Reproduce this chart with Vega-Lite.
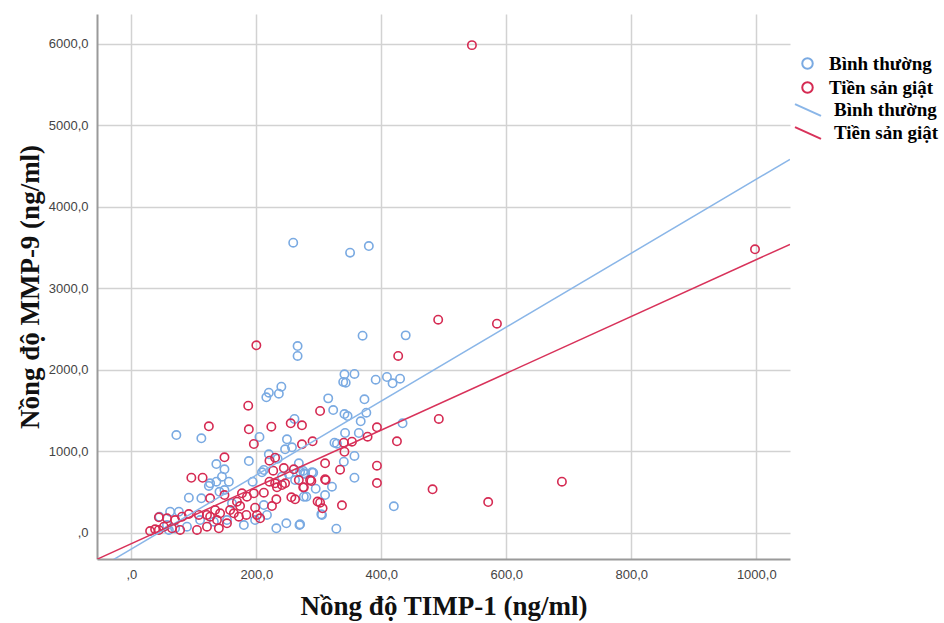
{
  "$schema": "https://vega.github.io/schema/vega-lite/v6.json",
  "width": 693,
  "height": 545,
  "autosize": {"type": "none"},
  "padding": {"left": 97, "top": 14, "right": 154, "bottom": 64},
  "background": "white",
  "config": {"view": {"stroke": null}, "font": "Liberation Sans"},
  "datasets": {
    "points": [
      {"timp1": 259, "mmp9": 3556, "nhom": "Bình thường"},
      {"timp1": 350, "mmp9": 3433, "nhom": "Bình thường"},
      {"timp1": 380, "mmp9": 3515, "nhom": "Bình thường"},
      {"timp1": 370, "mmp9": 2415, "nhom": "Bình thường"},
      {"timp1": 439, "mmp9": 2419, "nhom": "Bình thường"},
      {"timp1": 266, "mmp9": 2288, "nhom": "Bình thường"},
      {"timp1": 266, "mmp9": 2166, "nhom": "Bình thường"},
      {"timp1": 341, "mmp9": 1941, "nhom": "Bình thường"},
      {"timp1": 357, "mmp9": 1945, "nhom": "Bình thường"},
      {"timp1": 339, "mmp9": 1847, "nhom": "Bình thường"},
      {"timp1": 343, "mmp9": 1838, "nhom": "Bình thường"},
      {"timp1": 391, "mmp9": 1875, "nhom": "Bình thường"},
      {"timp1": 409, "mmp9": 1908, "nhom": "Bình thường"},
      {"timp1": 418, "mmp9": 1831, "nhom": "Bình thường"},
      {"timp1": 430, "mmp9": 1887, "nhom": "Bình thường"},
      {"timp1": 220, "mmp9": 1715, "nhom": "Bình thường"},
      {"timp1": 216, "mmp9": 1659, "nhom": "Bình thường"},
      {"timp1": 236, "mmp9": 1703, "nhom": "Bình thường"},
      {"timp1": 240, "mmp9": 1789, "nhom": "Bình thường"},
      {"timp1": 315, "mmp9": 1646, "nhom": "Bình thường"},
      {"timp1": 323, "mmp9": 1503, "nhom": "Bình thường"},
      {"timp1": 373, "mmp9": 1634, "nhom": "Bình thường"},
      {"timp1": 341, "mmp9": 1454, "nhom": "Bình thường"},
      {"timp1": 346, "mmp9": 1429, "nhom": "Bình thường"},
      {"timp1": 376, "mmp9": 1470, "nhom": "Bình thường"},
      {"timp1": 367, "mmp9": 1364, "nhom": "Bình thường"},
      {"timp1": 261, "mmp9": 1393, "nhom": "Bình thường"},
      {"timp1": 434, "mmp9": 1340, "nhom": "Bình thường"},
      {"timp1": 342, "mmp9": 1221, "nhom": "Bình thường"},
      {"timp1": 364, "mmp9": 1221, "nhom": "Bình thường"},
      {"timp1": 325, "mmp9": 1102, "nhom": "Bình thường"},
      {"timp1": 329, "mmp9": 1090, "nhom": "Bình thường"},
      {"timp1": 357, "mmp9": 939, "nhom": "Bình thường"},
      {"timp1": 340, "mmp9": 869, "nhom": "Bình thường"},
      {"timp1": 291, "mmp9": 734, "nhom": "Bình thường"},
      {"timp1": 276, "mmp9": 726, "nhom": "Bình thường"},
      {"timp1": 270, "mmp9": 746, "nhom": "Bình thường"},
      {"timp1": 357, "mmp9": 672, "nhom": "Bình thường"},
      {"timp1": 295, "mmp9": 537, "nhom": "Bình thường"},
      {"timp1": 321, "mmp9": 562, "nhom": "Bình thường"},
      {"timp1": 310, "mmp9": 460, "nhom": "Bình thường"},
      {"timp1": 276, "mmp9": 439, "nhom": "Bình thường"},
      {"timp1": 420, "mmp9": 321, "nhom": "Bình thường"},
      {"timp1": 304, "mmp9": 223, "nhom": "Bình thường"},
      {"timp1": 270, "mmp9": 101, "nhom": "Bình thường"},
      {"timp1": 328, "mmp9": 47, "nhom": "Bình thường"},
      {"timp1": 205, "mmp9": 1172, "nhom": "Bình thường"},
      {"timp1": 249, "mmp9": 1144, "nhom": "Bình thường"},
      {"timp1": 246, "mmp9": 1021, "nhom": "Bình thường"},
      {"timp1": 257, "mmp9": 1045, "nhom": "Bình thường"},
      {"timp1": 188, "mmp9": 877, "nhom": "Bình thường"},
      {"timp1": 220, "mmp9": 960, "nhom": "Bình thường"},
      {"timp1": 234, "mmp9": 906, "nhom": "Bình thường"},
      {"timp1": 268, "mmp9": 849, "nhom": "Bình thường"},
      {"timp1": 212, "mmp9": 767, "nhom": "Bình thường"},
      {"timp1": 209, "mmp9": 739, "nhom": "Bình thường"},
      {"timp1": 241, "mmp9": 685, "nhom": "Bình thường"},
      {"timp1": 252, "mmp9": 718, "nhom": "Bình thường"},
      {"timp1": 275, "mmp9": 755, "nhom": "Bình thường"},
      {"timp1": 278, "mmp9": 718, "nhom": "Bình thường"},
      {"timp1": 289, "mmp9": 739, "nhom": "Bình thường"},
      {"timp1": 262, "mmp9": 644, "nhom": "Bình thường"},
      {"timp1": 280, "mmp9": 439, "nhom": "Bình thường"},
      {"timp1": 161, "mmp9": 358, "nhom": "Bình thường"},
      {"timp1": 180, "mmp9": 92, "nhom": "Bình thường"},
      {"timp1": 198, "mmp9": 153, "nhom": "Bình thường"},
      {"timp1": 232, "mmp9": 52, "nhom": "Bình thường"},
      {"timp1": 248, "mmp9": 113, "nhom": "Bình thường"},
      {"timp1": 269, "mmp9": 92, "nhom": "Bình thường"},
      {"timp1": 305, "mmp9": 215, "nhom": "Bình thường"},
      {"timp1": 212, "mmp9": 337, "nhom": "Bình thường"},
      {"timp1": 217, "mmp9": 215, "nhom": "Bình thường"},
      {"timp1": 72, "mmp9": 1196, "nhom": "Bình thường"},
      {"timp1": 112, "mmp9": 1156, "nhom": "Bình thường"},
      {"timp1": 136, "mmp9": 840, "nhom": "Bình thường"},
      {"timp1": 149, "mmp9": 775, "nhom": "Bình thường"},
      {"timp1": 126, "mmp9": 604, "nhom": "Bình thường"},
      {"timp1": 136, "mmp9": 623, "nhom": "Bình thường"},
      {"timp1": 156, "mmp9": 623, "nhom": "Bình thường"},
      {"timp1": 149, "mmp9": 521, "nhom": "Bình thường"},
      {"timp1": 141, "mmp9": 500, "nhom": "Bình thường"},
      {"timp1": 92, "mmp9": 427, "nhom": "Bình thường"},
      {"timp1": 112, "mmp9": 420, "nhom": "Bình thường"},
      {"timp1": 45, "mmp9": 194, "nhom": "Bình thường"},
      {"timp1": 62, "mmp9": 255, "nhom": "Bình thường"},
      {"timp1": 76, "mmp9": 255, "nhom": "Bình thường"},
      {"timp1": 57, "mmp9": 92, "nhom": "Bình thường"},
      {"timp1": 89, "mmp9": 71, "nhom": "Bình thường"},
      {"timp1": 110, "mmp9": 153, "nhom": "Bình thường"},
      {"timp1": 132, "mmp9": 133, "nhom": "Bình thường"},
      {"timp1": 153, "mmp9": 153, "nhom": "Bình thường"},
      {"timp1": 145, "mmp9": 685, "nhom": "Bình thường"},
      {"timp1": 124, "mmp9": 571, "nhom": "Bình thường"},
      {"timp1": 194, "mmp9": 623, "nhom": "Bình thường"},
      {"timp1": 60, "mmp9": 31, "nhom": "Bình thường"},
      {"timp1": 70, "mmp9": 52, "nhom": "Bình thường"},
      {"timp1": 545, "mmp9": 5980, "nhom": "Tiền sản giật"},
      {"timp1": 998, "mmp9": 3475, "nhom": "Tiền sản giật"},
      {"timp1": 491, "mmp9": 2611, "nhom": "Tiền sản giật"},
      {"timp1": 585, "mmp9": 2562, "nhom": "Tiền sản giật"},
      {"timp1": 200, "mmp9": 2297, "nhom": "Tiền sản giật"},
      {"timp1": 427, "mmp9": 2166, "nhom": "Tiền sản giật"},
      {"timp1": 187, "mmp9": 1556, "nhom": "Tiền sản giật"},
      {"timp1": 302, "mmp9": 1491, "nhom": "Tiền sản giật"},
      {"timp1": 124, "mmp9": 1303, "nhom": "Tiền sản giật"},
      {"timp1": 188, "mmp9": 1266, "nhom": "Tiền sản giật"},
      {"timp1": 224, "mmp9": 1298, "nhom": "Tiền sản giật"},
      {"timp1": 255, "mmp9": 1340, "nhom": "Tiền sản giật"},
      {"timp1": 273, "mmp9": 1315, "nhom": "Tiền sản giật"},
      {"timp1": 492, "mmp9": 1393, "nhom": "Tiền sản giật"},
      {"timp1": 393, "mmp9": 1291, "nhom": "Tiền sản giật"},
      {"timp1": 378, "mmp9": 1176, "nhom": "Tiền sản giật"},
      {"timp1": 425, "mmp9": 1119, "nhom": "Tiền sản giật"},
      {"timp1": 290, "mmp9": 1119, "nhom": "Tiền sản giật"},
      {"timp1": 340, "mmp9": 1102, "nhom": "Tiền sản giật"},
      {"timp1": 353, "mmp9": 1114, "nhom": "Tiền sản giật"},
      {"timp1": 273, "mmp9": 1082, "nhom": "Tiền sản giật"},
      {"timp1": 341, "mmp9": 991, "nhom": "Tiền sản giật"},
      {"timp1": 310, "mmp9": 849, "nhom": "Tiền sản giật"},
      {"timp1": 393, "mmp9": 820, "nhom": "Tiền sản giật"},
      {"timp1": 334, "mmp9": 771, "nhom": "Tiền sản giật"},
      {"timp1": 393, "mmp9": 607, "nhom": "Tiền sản giật"},
      {"timp1": 311, "mmp9": 644, "nhom": "Tiền sản giật"},
      {"timp1": 288, "mmp9": 632, "nhom": "Tiền sản giật"},
      {"timp1": 276, "mmp9": 554, "nhom": "Tiền sản giật"},
      {"timp1": 482, "mmp9": 530, "nhom": "Tiền sản giật"},
      {"timp1": 571, "mmp9": 374, "nhom": "Tiền sản giật"},
      {"timp1": 689, "mmp9": 624, "nhom": "Tiền sản giật"},
      {"timp1": 302, "mmp9": 366, "nhom": "Tiền sản giật"},
      {"timp1": 306, "mmp9": 297, "nhom": "Tiền sản giật"},
      {"timp1": 337, "mmp9": 334, "nhom": "Tiền sản giật"},
      {"timp1": 196, "mmp9": 1086, "nhom": "Tiền sản giật"},
      {"timp1": 221, "mmp9": 881, "nhom": "Tiền sản giật"},
      {"timp1": 230, "mmp9": 918, "nhom": "Tiền sản giật"},
      {"timp1": 227, "mmp9": 758, "nhom": "Tiền sản giật"},
      {"timp1": 244, "mmp9": 791, "nhom": "Tiền sản giật"},
      {"timp1": 260, "mmp9": 775, "nhom": "Tiền sản giật"},
      {"timp1": 221, "mmp9": 623, "nhom": "Tiền sản giật"},
      {"timp1": 230, "mmp9": 604, "nhom": "Tiền sản giật"},
      {"timp1": 233, "mmp9": 555, "nhom": "Tiền sản giật"},
      {"timp1": 241, "mmp9": 583, "nhom": "Tiền sản giật"},
      {"timp1": 246, "mmp9": 604, "nhom": "Tiền sản giật"},
      {"timp1": 268, "mmp9": 644, "nhom": "Tiền sản giật"},
      {"timp1": 275, "mmp9": 555, "nhom": "Tiền sản giật"},
      {"timp1": 286, "mmp9": 644, "nhom": "Tiền sản giật"},
      {"timp1": 310, "mmp9": 653, "nhom": "Tiền sản giật"},
      {"timp1": 177, "mmp9": 481, "nhom": "Tiền sản giật"},
      {"timp1": 185, "mmp9": 439, "nhom": "Tiền sản giật"},
      {"timp1": 196, "mmp9": 481, "nhom": "Tiền sản giật"},
      {"timp1": 212, "mmp9": 488, "nhom": "Tiền sản giật"},
      {"timp1": 232, "mmp9": 407, "nhom": "Tiền sản giật"},
      {"timp1": 256, "mmp9": 432, "nhom": "Tiền sản giật"},
      {"timp1": 262, "mmp9": 407, "nhom": "Tiền sản giật"},
      {"timp1": 298, "mmp9": 380, "nhom": "Tiền sản giật"},
      {"timp1": 169, "mmp9": 378, "nhom": "Tiền sản giật"},
      {"timp1": 174, "mmp9": 325, "nhom": "Tiền sản giật"},
      {"timp1": 184, "mmp9": 215, "nhom": "Tiền sản giật"},
      {"timp1": 198, "mmp9": 304, "nhom": "Tiền sản giật"},
      {"timp1": 201, "mmp9": 215, "nhom": "Tiền sản giật"},
      {"timp1": 206, "mmp9": 174, "nhom": "Tiền sản giật"},
      {"timp1": 225, "mmp9": 325, "nhom": "Tiền sản giật"},
      {"timp1": 149, "mmp9": 923, "nhom": "Tiền sản giật"},
      {"timp1": 96, "mmp9": 672, "nhom": "Tiền sản giật"},
      {"timp1": 114, "mmp9": 672, "nhom": "Tiền sản giật"},
      {"timp1": 126, "mmp9": 420, "nhom": "Tiền sản giật"},
      {"timp1": 149, "mmp9": 460, "nhom": "Tiền sản giật"},
      {"timp1": 44, "mmp9": 187, "nhom": "Tiền sản giật"},
      {"timp1": 57, "mmp9": 174, "nhom": "Tiền sản giật"},
      {"timp1": 70, "mmp9": 153, "nhom": "Tiền sản giật"},
      {"timp1": 81, "mmp9": 194, "nhom": "Tiền sản giật"},
      {"timp1": 92, "mmp9": 227, "nhom": "Tiền sản giật"},
      {"timp1": 108, "mmp9": 215, "nhom": "Tiền sản giật"},
      {"timp1": 121, "mmp9": 215, "nhom": "Tiền sản giật"},
      {"timp1": 134, "mmp9": 276, "nhom": "Tiền sản giật"},
      {"timp1": 142, "mmp9": 236, "nhom": "Tiền sản giật"},
      {"timp1": 158, "mmp9": 276, "nhom": "Tiền sản giật"},
      {"timp1": 164, "mmp9": 236, "nhom": "Tiền sản giật"},
      {"timp1": 172, "mmp9": 194, "nhom": "Tiền sản giật"},
      {"timp1": 52, "mmp9": 71, "nhom": "Tiền sản giật"},
      {"timp1": 65, "mmp9": 52, "nhom": "Tiền sản giật"},
      {"timp1": 78, "mmp9": 31, "nhom": "Tiền sản giật"},
      {"timp1": 105, "mmp9": 31, "nhom": "Tiền sản giật"},
      {"timp1": 121, "mmp9": 71, "nhom": "Tiền sản giật"},
      {"timp1": 140, "mmp9": 52, "nhom": "Tiền sản giật"},
      {"timp1": 153, "mmp9": 113, "nhom": "Tiền sản giật"},
      {"timp1": 38, "mmp9": 39, "nhom": "Tiền sản giật"},
      {"timp1": 30, "mmp9": 18, "nhom": "Tiền sản giật"},
      {"timp1": 126, "mmp9": 194, "nhom": "Tiền sản giật"},
      {"timp1": 137, "mmp9": 153, "nhom": "Tiền sản giật"},
      {"timp1": 44, "mmp9": 31, "nhom": "Tiền sản giật"}
    ],
    "fits": [
      {"timp1": -55, "mmp9": -452, "duong": "Bình thường "},
      {"timp1": 1054, "mmp9": 4579, "duong": "Bình thường "},
      {"timp1": -55, "mmp9": -328, "duong": "Tiền sản giật "},
      {"timp1": 1054, "mmp9": 3536, "duong": "Tiền sản giật "}
    ]
  },
  "layer": [
    {
      "data": {"name": "points"},
      "mark": {"type": "point", "shape": "circle", "filled": false, "size": 70, "strokeWidth": 1.6, "opacity": 1},
      "encoding": {
        "x": {
          "field": "timp1", "type": "quantitative",
          "scale": {"domain": [-55, 1054], "nice": false, "zero": false},
          "axis": {
            "values": [0, 200, 400, 600, 800, 1000],
            "labelExpr": "datum.value == 0 ? ',0' : replace(format(datum.value, '.1f'), '.', ',')",
            "title": "Nồng độ TIMP-1 (ng/ml)",
            "titleFont": "Liberation Serif", "titleFontSize": 27, "titleFontWeight": "bold", "titleColor": "#111",
            "titlePadding": 12,
            "labelFont": "Liberation Sans", "labelFontSize": 13, "labelColor": "#444", "labelPadding": 9,
            "ticks": false, "domainColor": "#9a9a9a", "domainWidth": 2,
            "grid": true, "gridColor": "#d2d2d2", "gridWidth": 1.5, "labelFlush": false
          }
        },
        "y": {
          "field": "mmp9", "type": "quantitative",
          "scale": {"domain": [-325, 6362], "nice": false, "zero": false},
          "axis": {
            "values": [0, 1000, 2000, 3000, 4000, 5000, 6000],
            "labelExpr": "datum.value == 0 ? ',0' : replace(format(datum.value, '.1f'), '.', ',')",
            "title": "Nồng độ MMP-9 (ng/ml)",
            "titleFont": "Liberation Serif", "titleFontSize": 27, "titleFontWeight": "bold", "titleColor": "#111",
            "titlePadding": 4,
            "labelFont": "Liberation Sans", "labelFontSize": 13, "labelColor": "#444", "labelPadding": 9,
            "ticks": false, "domainColor": "#9a9a9a", "domainWidth": 2,
            "grid": true, "gridColor": "#d2d2d2", "gridWidth": 1.5, "labelFlush": false
          }
        },
        "color": {
          "field": "nhom", "type": "nominal",
          "scale": {"domain": ["Bình thường", "Tiền sản giật"], "range": ["#7aaae2", "#d52a52"]},
          "legend": {
            "orient": "none", "legendX": 701, "legendY": 40, "title": null, "padding": 0,
            "symbolType": "circle", "symbolSize": 110, "symbolStrokeWidth": 2,
            "labelFont": "Liberation Serif", "labelFontSize": 19, "labelFontWeight": "bold", "labelColor": "#000",
            "labelOffset": 12, "rowPadding": 4
          }
        }
      }
    },
    {
      "data": {"name": "fits"},
      "mark": {"type": "line", "clip": true, "strokeWidth": 1.5},
      "encoding": {
        "x": {"field": "timp1", "type": "quantitative"},
        "y": {"field": "mmp9", "type": "quantitative"},
        "stroke": {
          "field": "duong", "type": "nominal",
          "scale": {"domain": ["Bình thường ", "Tiền sản giật "], "range": ["#8ab6e8", "#d8325a"]},
          "legend": {
            "orient": "none", "legendX": 700, "legendY": 85, "title": null, "padding": 0,
            "symbolType": "M-1.3,-0.58L1.3,0.58", "symbolSize": 400, "symbolStrokeWidth": 2,
            "labelFont": "Liberation Serif", "labelFontSize": 19, "labelFontWeight": "bold", "labelColor": "#000",
            "labelOffset": 15, "rowPadding": 2
          }
        }
      }
    }
  ]
}
